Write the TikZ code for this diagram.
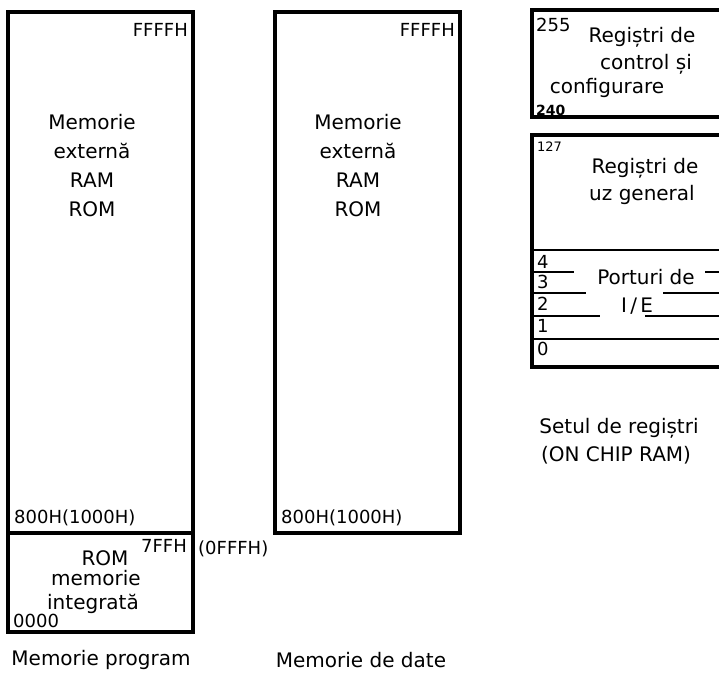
\documentclass[tikz,border=0pt]{standalone}
\usepackage{fontspec}
\setmainfont{DejaVu Sans}
\usepackage{tikz}
\usetikzlibrary{positioning,calc}
\tikzset{
  memframe/.style={line width=3.3pt},
  portline/.style={line width=1.7pt},
  txt/.style={font=\fontsize{20}{29}\selectfont,inner sep=0pt,align=center},
  addr/.style={font=\fontsize{18}{20}\selectfont,inner sep=0pt},
  tiny/.style={font=\fontsize{13}{15}\selectfont,inner sep=0pt}
}

\begin{document}
\begin{tikzpicture}[x=1pt,y=1pt]
  \useasboundingbox (0,0) rectangle (719,678);
  % memorie program
  \coordinate (p1) at (8,666);
  \coordinate (p2) at (193,145);
  \coordinate (p3) at (8,46);
  \draw[memframe] (p1) rectangle (p3 -| p2);
  \draw[memframe] (p1 |- p2) -- (p2);
  % memorie de date
  \coordinate (d1) at (275,666);
  \coordinate (d2) at (460,145);
  \draw[memframe] (d1) rectangle (d2);
  % setul de registri
  \coordinate (r1) at (532,668);
  \coordinate (r2) at (735,561);
  \coordinate (g1) at (532,543);
  \coordinate (g2) at (735,311);
  \draw[memframe] (r1) rectangle (r2);
  \draw[memframe] (g1) rectangle (g2);
  \draw[portline] (532,428) -- (735,428) (532,339) -- (735,339);
  \foreach \y/\a/\b in {406/574/705,385/586/663,362/600/645}
    {\draw[portline] (532,\y) -- (\a,\y) (\b,\y) -- (735,\y);}
  % texte memorie program
  \node[addr,anchor=east] (ptop) at (188,648) {FFFFH};
  \node[txt] (pext) at (92,512) {Memorie\\externă\\RAM\\ROM};
  \node[addr,anchor=west] (plow) at (14,160) {800H(1000H)};
  \node[txt] (prom) at (105,120) {ROM};
  \node[addr,anchor=east] (pend) at (187,132) {7FFH};
  \node[addr,anchor=west] (pend2) at (198,129) {(0FFFH)};
  \node[txt] (pmem) at (96,100) {memorie};
  \node[txt] (pint) at (93,74) {integrată};
  \node[addr,anchor=west] (pzero) at (13,57) {0000};
  \node[txt] (pcap) at (101,18) {Memorie program};
  % texte memorie de date
  \node[addr,anchor=east] (dtop) at (455,648) {FFFFH};
  \node[txt] (dext) at (358,512) {Memorie\\externă\\RAM\\ROM};
  \node[addr,anchor=west] (dlow) at (281,160) {800H(1000H)};
  \node[txt] (dcap) at (361,18) {Memorie de date};
  % texte registri
  \node[addr,anchor=west] (rtop) at (536,653) {255};
  \node[txt] (rl1) at (642,641) {Regiștri de};
  \node[txt] (rl2) at (646,614) {control și};
  \node[txt] (rl3) at (607,590) {configurare};
  \node[tiny,font=\fontsize{14}{15}\selectfont\bfseries,anchor=west] (rbot) at (536,568) {240};
  \node[tiny,anchor=west] (gtop) at (537,531) {127};
  \node[txt] (gl1) at (645,510) {Regiștri de};
  \node[txt] (gl2) at (642,483) {uz general};
  \foreach \n/\y in {4/416,3/396,2/374,1/352,0/329}
    \node[addr,anchor=west] (port\n) at (537,\y) {\n};
  \node[txt] (pio1) at (646,401) {Porturi de};
  \node[txt] (pio2) at (637,372) {I\,/\,E};
  \node[txt] (scap1) at (619,250) {Setul de regiștri};
  \node[txt] (scap2) at (616,223) {(ON CHIP RAM)};
\end{tikzpicture}
\end{document}
